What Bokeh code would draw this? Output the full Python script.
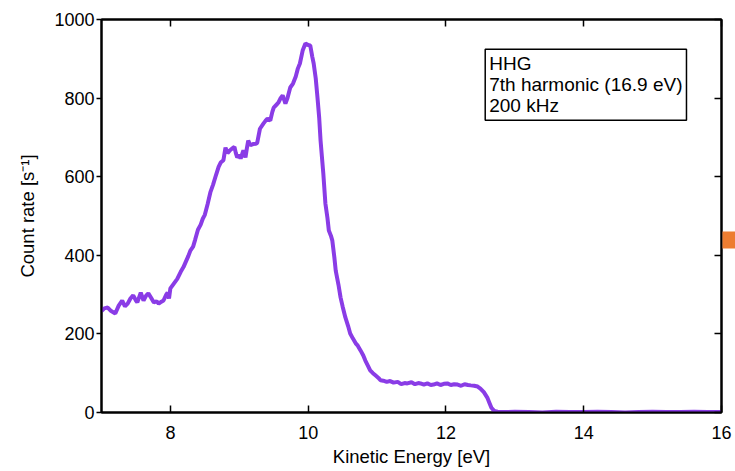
from bokeh.plotting import figure
from bokeh.layouts import row
from bokeh.models import Range1d, LinearAxis, FixedTicker, CustomJSTickFormatter, Label
from bokeh.embed import file_html
from bokeh.resources import INLINE

# ---- data ----
energy = [7.00, 7.04, 7.09, 7.14, 7.20, 7.25, 7.30, 7.34, 7.38, 7.42, 7.46, 7.50, 7.52, 7.57,
          7.61, 7.65, 7.68, 7.72, 7.76, 7.80, 7.83, 7.87, 7.90, 7.94, 7.96, 7.98, 8.00, 8.05,
          8.10, 8.15, 8.19, 8.22, 8.26, 8.29, 8.33, 8.36, 8.40, 8.44, 8.47, 8.50, 8.54, 8.58,
          8.62, 8.66, 8.70, 8.73, 8.77, 8.80, 8.83, 8.87, 8.90, 8.93, 8.95, 8.97, 9.00, 9.02,
          9.05, 9.06, 9.09, 9.11, 9.13, 9.16, 9.20, 9.24, 9.26, 9.30, 9.35, 9.38, 9.41, 9.45,
          9.48, 9.50, 9.55, 9.57, 9.60, 9.63, 9.67, 9.70, 9.74, 9.78, 9.82, 9.85, 9.88, 9.92,
          9.96, 10.00, 10.03, 10.06, 10.08, 10.11, 10.135, 10.16, 10.18, 10.20, 10.22, 10.25,
          10.28, 10.30, 10.33, 10.35, 10.38, 10.40, 10.44, 10.47, 10.50, 10.54, 10.58, 10.61,
          10.65, 10.69, 10.72, 10.76, 10.80, 10.83, 10.87, 10.90, 10.94, 10.98, 11.02, 11.05,
          11.09, 11.14, 11.19, 11.24, 11.30, 11.35, 11.40, 11.44, 11.50, 11.55, 11.60, 11.63,
          11.68, 11.73, 11.78, 11.82, 11.87, 11.92, 11.97, 12.02, 12.07, 12.12, 12.17, 12.22,
          12.27, 12.32, 12.36, 12.41, 12.46, 12.50, 12.55, 12.60, 12.63, 12.66, 12.70, 12.75,
          12.85, 13.00, 13.20, 13.40, 13.60, 13.80, 14.00, 14.20, 14.40, 14.60, 14.80, 15.00,
          15.20, 15.40, 15.60, 15.80, 16.00]
counts = [258, 265, 267, 258, 252, 272, 285, 270, 277, 290, 298, 285, 280, 305,
          285, 298, 303, 292, 280, 283, 277, 282, 285, 300, 305, 290, 316, 328,
          340, 358, 370, 382, 398, 412, 422, 440, 465, 478, 493, 503, 530, 560,
          580, 603, 625, 636, 642, 674, 660, 668, 672, 676, 660, 649, 655, 646,
          662, 667, 649, 672, 692, 680, 683, 684, 686, 722, 735, 742, 748, 743,
          765, 776, 785, 789, 800, 807, 786, 800, 827, 837, 855, 875, 888, 921,
          939, 935, 934, 905, 888, 850, 802, 750, 692, 650, 608, 532,
          495, 463, 450, 438, 395, 361, 325, 293, 270, 242, 220, 201,
          188, 176, 170, 158, 145, 132, 118, 107, 100, 94, 88, 82,
          81, 78, 80, 76, 78, 72, 75, 74, 77, 72, 75, 74,
          71, 74, 70, 71, 74, 70, 73, 74, 70, 72, 71, 68,
          72, 70, 69, 68, 66, 61, 52, 38, 25, 12, 4, 2,
          1, 2, 1, 0, 2, 1, 1, 2, 1, 0, 1, 2,
          1, 1, 2, 1, 1]

x_ticks = [8, 10, 12, 14, 16]
y_ticks = [0, 200, 400, 600, 800, 1000]
info_lines = ["HHG", "7th harmonic (16.9 eV)", "200 kHz"]
marker_x = [0.5]
marker_y = [439]

FONT = "Liberation Sans"
STRIP = 13

yr = Range1d(0, 1000)

# try to overlay the marker strip on the right border with a negative margin
overlay_ok = True
try:
    _test = figure(width=10, height=10, margin=(0, 0, 0, -STRIP))
except Exception:
    overlay_ok = False

main_w = 735 if overlay_ok else 735 - STRIP
p = figure(width=main_w, height=471, output_backend="svg", toolbar_location=None,
           x_range=Range1d(7, 16), y_range=yr,
           min_border_left=101, min_border_right=main_w - 721, min_border_top=19,
           min_border_bottom=59)
p.grid.visible = False
p.outline_line_color = "black"
p.outline_line_width = 2
p.background_fill_color = "white"
p.border_fill_color = "white"

p.line(energy, counts, line_color="#8A3CE6", line_width=4)

# main axes
xa = p.xaxis[0]
xa.ticker = FixedTicker(ticks=x_ticks)
xa.axis_label = "Kinetic Energy [eV]"
xa.major_tick_in = 7
xa.major_tick_out = 0
xa.major_label_standoff = 13
xa.axis_label_standoff = 4

ya = p.yaxis[0]
ya.ticker = FixedTicker(ticks=y_ticks)
ya.axis_label = "Count rate [s\u207b\u00b9]"
ya.major_tick_in = 0
ya.major_tick_out = 5
ya.major_label_standoff = 2
ya.axis_label_standoff = 13

for ax in (xa, ya):
    ax.minor_tick_line_color = None
    ax.axis_line_width = 2
    ax.axis_line_color = "black"
    ax.major_tick_line_width = 1.5
    ax.major_tick_line_color = "black"
    ax.major_label_text_font = FONT
    ax.major_label_text_font_size = "18px"
    ax.major_label_text_color = "black"
    ax.axis_label_text_font = FONT
    ax.axis_label_text_font_size = "18.5px"
    ax.axis_label_text_font_style = "normal"
    ax.axis_label_text_color = "black"

# mirrored axes (ticks only)
blank = CustomJSTickFormatter(code="return ''")
top = LinearAxis(ticker=FixedTicker(ticks=x_ticks), formatter=blank,
                 major_tick_in=7, major_tick_out=0, minor_tick_line_color=None,
                 major_label_standoff=0,
                 axis_line_width=2, major_tick_line_width=1.5)
right = LinearAxis(ticker=FixedTicker(ticks=y_ticks), formatter=blank,
                   major_tick_in=7, major_tick_out=0, minor_tick_line_color=None,
                   major_label_standoff=0,
                   axis_line_width=2, major_tick_line_width=1.5)
p.add_layout(top, "above")
p.add_layout(right, "right")

# info box
info = Label(x=12.57, y=924, text="\n".join(info_lines), anchor="top_left",
             text_font=FONT, text_font_size="19px", text_color="black",
             text_line_height=1.0,
             border_line_color="black", border_line_width=1.5,
             background_fill_color="white", padding=4)
p.add_layout(info)

# narrow strip on the right holding the orange marker that sits beyond the frame
strip_kw = dict(margin=(0, 0, 0, -STRIP)) if overlay_ok else {}
p2 = figure(width=STRIP, height=471, output_backend="svg", toolbar_location=None,
            x_range=Range1d(0, 1), y_range=yr,
            min_border_left=0, min_border_right=0, min_border_top=19, min_border_bottom=59,
            **strip_kw)
p2.axis.visible = False
p2.grid.visible = False
p2.outline_line_color = None
p2.background_fill_color = None
p2.border_fill_color = None
p2.scatter(marker_x, marker_y, marker="square", size=17, fill_color="#ED7D31",
           line_color=None)

layout = row(p, p2, spacing=0)
open("out.html", "w").write(file_html(layout, INLINE))
